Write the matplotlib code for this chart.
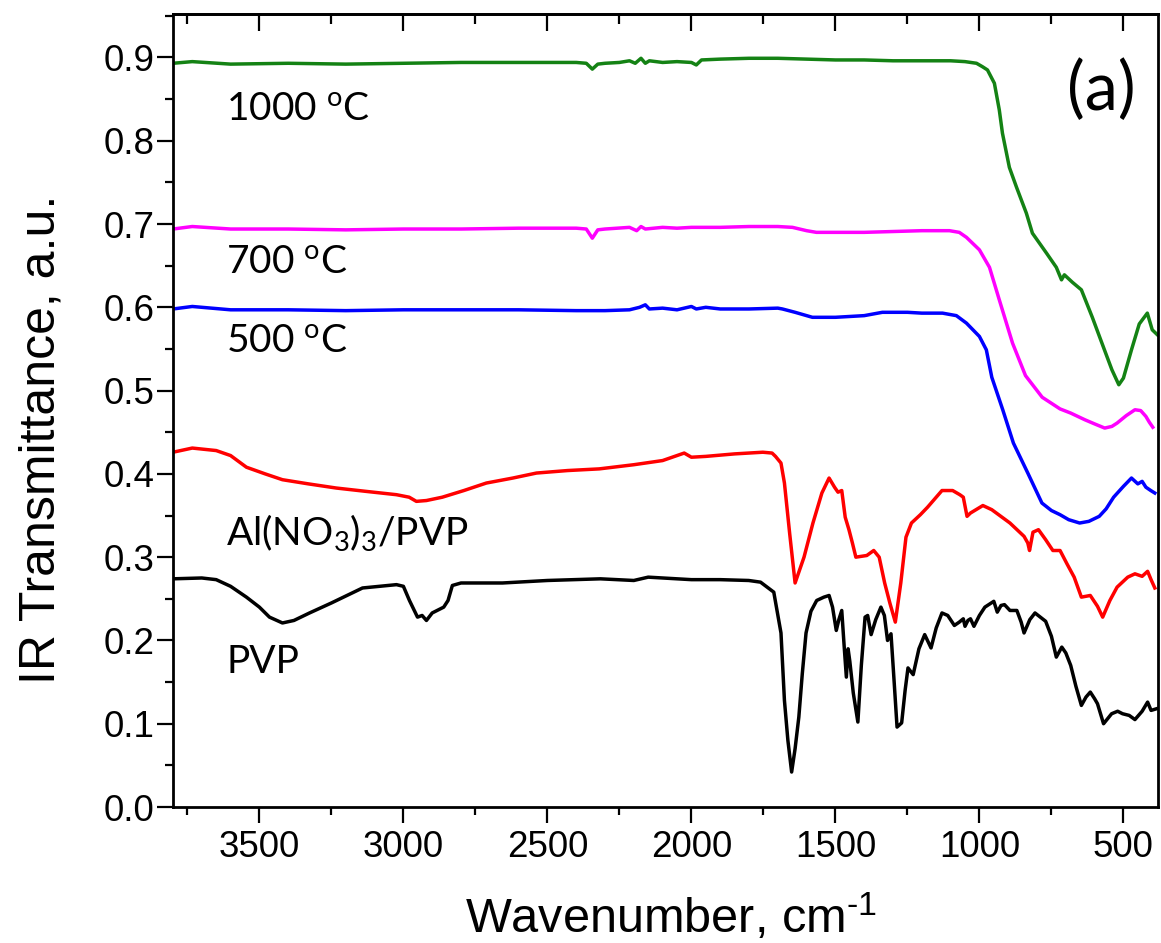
import matplotlib
matplotlib.use("Agg")
import matplotlib.pyplot as plt
from matplotlib.ticker import MultipleLocator

# ---------------- data ----------------
x_1000 = [3800, 3733, 3600, 3400, 3200, 3000, 2800, 2600, 2400, 2365, 2344, 2325, 2300, 2250, 2215, 2195,
          2175, 2160, 2146, 2100, 2050, 2000, 1983, 1965, 1900, 1800, 1700, 1600, 1500, 1400, 1300, 1200,
          1100, 1050, 1010, 990, 972, 948, 931, 920, 896, 871, 837, 816, 767, 733, 715, 705, 677, 646, 608,
          566, 540, 516, 500, 472, 445, 417, 400, 382]
y_1000 = [0.893, 0.895, 0.892, 0.893, 0.892, 0.893, 0.894, 0.894, 0.894, 0.893, 0.886, 0.892, 0.893, 0.894,
          0.896, 0.893, 0.899, 0.893, 0.896, 0.894, 0.895, 0.894, 0.891, 0.897, 0.898, 0.899, 0.899, 0.898,
          0.897, 0.897, 0.896, 0.896, 0.896, 0.895, 0.893, 0.889, 0.885, 0.869, 0.837, 0.809, 0.768, 0.744,
          0.713, 0.689, 0.665, 0.648, 0.633, 0.639, 0.630, 0.621, 0.588, 0.549, 0.525, 0.507, 0.515, 0.549,
          0.580, 0.593, 0.573, 0.567]

x_700 = [3800, 3733, 3600, 3400, 3200, 3000, 2800, 2600, 2400, 2365, 2344, 2325, 2300, 2215, 2190, 2175,
         2160, 2100, 2050, 2000, 1950, 1900, 1800, 1700, 1649, 1600, 1566, 1500, 1400, 1300, 1200, 1104,
         1070, 1045, 1000, 965, 931, 885, 840, 782, 720, 683, 634, 600, 565, 540, 522, 490, 460, 440, 422,
         410, 398]
y_700 = [0.694, 0.697, 0.694, 0.694, 0.693, 0.694, 0.694, 0.695, 0.695, 0.694, 0.683, 0.693, 0.694, 0.696,
         0.692, 0.697, 0.694, 0.696, 0.695, 0.696, 0.696, 0.696, 0.697, 0.697, 0.696, 0.692, 0.690, 0.690,
         0.690, 0.691, 0.692, 0.692, 0.690, 0.684, 0.669, 0.648, 0.609, 0.557, 0.518, 0.492, 0.478, 0.473,
         0.465, 0.460, 0.455, 0.457, 0.461, 0.470, 0.477, 0.476, 0.469, 0.462, 0.456]

x_500 = [3800, 3733, 3600, 3400, 3200, 3000, 2800, 2600, 2400, 2300, 2215, 2180, 2160, 2146, 2100, 2050,
         2000, 1983, 1950, 1900, 1800, 1700, 1684, 1640, 1600, 1580, 1500, 1400, 1337, 1250, 1200, 1128,
         1080, 1045, 1000, 976, 957, 919, 882, 832, 783, 750, 720, 690, 652, 620, 584, 560, 534, 500, 472,
         450, 435, 422, 405, 391]
y_500 = [0.598, 0.601, 0.597, 0.597, 0.596, 0.597, 0.597, 0.597, 0.596, 0.596, 0.597, 0.600, 0.603, 0.598,
         0.599, 0.597, 0.601, 0.598, 0.600, 0.598, 0.598, 0.599, 0.598, 0.594, 0.590, 0.588, 0.588, 0.590,
         0.594, 0.594, 0.593, 0.593, 0.590, 0.581, 0.565, 0.549, 0.516, 0.477, 0.437, 0.401, 0.365, 0.356,
         0.351, 0.345, 0.341, 0.343, 0.349, 0.358, 0.372, 0.385, 0.395, 0.388, 0.391, 0.384, 0.380, 0.377]

x_alno3 = [3800, 3733, 3650, 3600, 3545, 3480, 3420, 3330, 3233, 3130, 3024, 2980, 2955, 2920, 2865, 2790,
           2712, 2620, 2538, 2430, 2320, 2200, 2100, 2025, 2000, 1950, 1850, 1752, 1720, 1708, 1689, 1677,
           1659, 1640, 1609, 1578, 1547, 1522, 1503, 1491, 1478, 1466, 1453, 1441, 1429, 1391, 1367, 1348,
           1329, 1311, 1292, 1273, 1255, 1236, 1205, 1180, 1130, 1093, 1068, 1056, 1043, 1031, 988, 957,
           894, 845, 832, 826, 814, 795, 770, 745, 720, 696, 671, 646, 615, 590, 572, 547, 522, 485, 460,
           435, 416, 404, 391]
y_alno3 = [0.426, 0.431, 0.428, 0.422, 0.408, 0.400, 0.393, 0.388, 0.383, 0.379, 0.375, 0.372, 0.367, 0.368,
           0.372, 0.380, 0.389, 0.395, 0.401, 0.404, 0.406, 0.411, 0.416, 0.425, 0.420, 0.421, 0.424, 0.426,
           0.425, 0.421, 0.413, 0.389, 0.329, 0.269, 0.300, 0.341, 0.377, 0.395, 0.384, 0.378, 0.380, 0.348,
           0.333, 0.317, 0.300, 0.302, 0.308, 0.300, 0.269, 0.245, 0.222, 0.269, 0.324, 0.341, 0.351, 0.360,
           0.380, 0.380, 0.375, 0.372, 0.349, 0.353, 0.362, 0.357, 0.341, 0.325, 0.317, 0.308, 0.330, 0.333,
           0.321, 0.308, 0.308, 0.292, 0.276, 0.252, 0.254, 0.241, 0.228, 0.248, 0.264, 0.276, 0.280, 0.277,
           0.283, 0.273, 0.263]

x_pvp = [3800, 3700, 3650, 3600, 3545, 3500, 3465, 3420, 3380, 3326, 3250, 3142, 3024, 3000, 2979, 2951,
         2935, 2920, 2900, 2860, 2845, 2830, 2800, 2656, 2500, 2316, 2200, 2150, 2000, 1900, 1801, 1760,
         1714, 1689, 1677, 1665, 1652, 1640, 1627, 1615, 1602, 1585, 1565, 1540, 1522, 1510, 1497, 1488,
         1478, 1470, 1462, 1456, 1450, 1438, 1422, 1410, 1397, 1388, 1376, 1360, 1342, 1330, 1319, 1307,
         1296, 1286, 1270, 1258, 1248, 1230, 1210, 1190, 1168, 1150, 1130, 1110, 1087, 1070, 1056, 1050,
         1040, 1031, 1019, 1000, 981, 950, 938, 925, 913, 894, 870, 855, 845, 825, 807, 770, 750, 733, 714,
         700, 683, 665, 646, 630, 615, 600, 590, 569, 555, 541, 520, 503, 480, 460, 435, 416, 404, 385]
y_pvp = [0.274, 0.275, 0.273, 0.265, 0.252, 0.240, 0.228, 0.221, 0.224, 0.233, 0.245, 0.263, 0.267, 0.265,
         0.248, 0.228, 0.230, 0.224, 0.233, 0.240, 0.248, 0.266, 0.269, 0.269, 0.272, 0.274, 0.272, 0.276,
         0.273, 0.273, 0.272, 0.270, 0.258, 0.209, 0.128, 0.080, 0.042, 0.070, 0.108, 0.160, 0.209, 0.235,
         0.248, 0.252, 0.254, 0.240, 0.212, 0.225, 0.236, 0.195, 0.156, 0.190, 0.175, 0.137, 0.102, 0.170,
         0.228, 0.230, 0.207, 0.225, 0.240, 0.230, 0.200, 0.208, 0.150, 0.096, 0.101, 0.140, 0.167, 0.159,
         0.190, 0.207, 0.191, 0.215, 0.233, 0.230, 0.218, 0.222, 0.226, 0.217, 0.224, 0.226, 0.217, 0.230,
         0.240, 0.247, 0.234, 0.242, 0.243, 0.236, 0.236, 0.222, 0.209, 0.225, 0.233, 0.223, 0.205, 0.180,
         0.192, 0.185, 0.170, 0.145, 0.122, 0.132, 0.138, 0.130, 0.124, 0.100, 0.106, 0.112, 0.115, 0.112,
         0.110, 0.105, 0.115, 0.126, 0.116, 0.118]

series_labels = ["1000 $^{\\mathrm{o}}$C", "700 $^{\\mathrm{o}}$C", "500 $^{\\mathrm{o}}$C",
                 "Al(NO$_{\\mathrm{3}}$)$_{\\mathrm{3}}$/PVP", "PVP"]
series_colors = ["#148214", "#ff00ff", "#0000ff", "#ff0000", "#000000"]
label_y = [0.825, 0.641, 0.546, 0.3145, 0.161]   # text baselines

x_ticks = [3500, 3000, 2500, 2000, 1500, 1000, 500]
y_ticks = [0.0, 0.1, 0.2, 0.3, 0.4, 0.5, 0.6, 0.7, 0.8, 0.9]

# ---------------- style ----------------
plt.rcParams["font.family"] = ["Liberation Sans", "DejaVu Sans"]
plt.rcParams["mathtext.fontset"] = "custom"
plt.rcParams["mathtext.rm"] = "Lato"
plt.rcParams["mathtext.sf"] = "Liberation Sans"
plt.rcParams["mathtext.it"] = "Lato:italic"

fig = plt.figure(figsize=(11.61, 9.43), dpi=100)
ax = fig.add_axes([0.149, 0.1442, 0.9974 - 0.149, 0.985 - 0.1442])

xs = [x_1000, x_700, x_500, x_alno3, x_pvp]
ys = [y_1000, y_700, y_500, y_alno3, y_pvp]
for x, y, c in zip(xs, ys, series_colors):
    ax.plot(x, y, color=c, lw=2.5, solid_joinstyle="round")

ax.set_xlim(3800, 380)
ax.set_ylim(0.0, 0.952)
ax.set_xticks(x_ticks)
ax.set_yticks(y_ticks)
ax.set_yticklabels([f"{v:.1f}" for v in y_ticks])
ax.xaxis.set_minor_locator(MultipleLocator(250))
ax.yaxis.set_minor_locator(MultipleLocator(0.05))

for s in ax.spines.values():
    s.set_linewidth(2.0)

ax.tick_params(axis="both", which="major", direction="out", length=11.5, width=1.6,
               labelsize=26.5)
ax.tick_params(axis="both", which="minor", direction="out", length=6, width=1.6)
ax.tick_params(axis="x", which="major", pad=5)
ax.tick_params(axis="y", which="major", pad=2)

top = ax.secondary_xaxis("top")
top.set_xticks(x_ticks)
top.xaxis.set_minor_locator(MultipleLocator(250))
top.tick_params(which="major", direction="in", length=12.5, width=1.6, labeltop=False)
top.tick_params(which="minor", direction="in", length=7, width=1.6)
top.spines["top"].set_linewidth(2.0)

ax.set_xlabel("Wavenumber, cm$^{\\mathsf{\u2010}\\mathsf{1}}$", fontsize=35)
ax.xaxis.label.set_va("baseline")
ax.xaxis.set_label_coords(0.506, -0.159)
ax.set_ylabel("IR Transmittance, a.u.", fontsize=36)
ax.yaxis.set_label_coords(-0.11, 0.464)

for lab, ly in zip(series_labels, label_y):
    ax.text(3615, ly, lab, fontsize=28, family="Lato", va="baseline", ha="left")

ax.text(0.942, 0.903, "(a)", transform=ax.transAxes, fontsize=48, family="Lato",
        ha="center", va="center")

fig.savefig("out.png", dpi=100)
